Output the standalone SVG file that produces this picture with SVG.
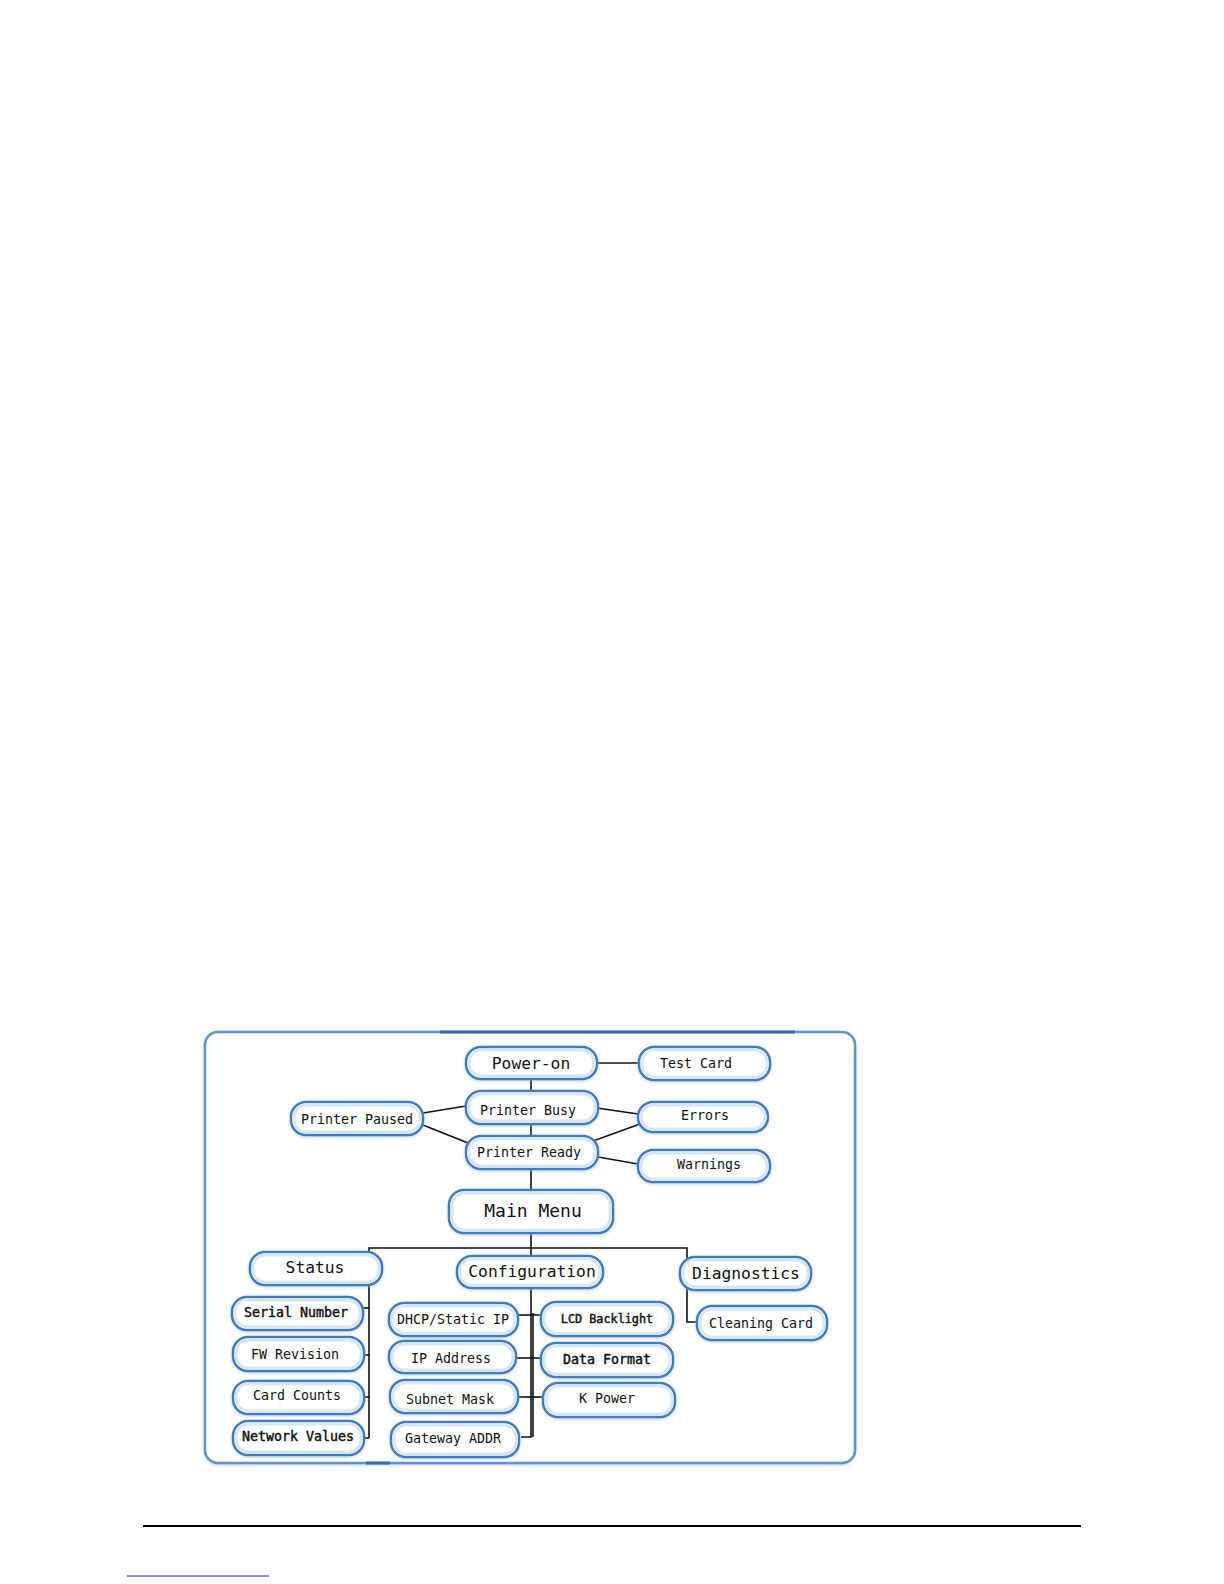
<svg xmlns="http://www.w3.org/2000/svg" width="1224" height="1584" viewBox="0 0 1224 1584">
<style>
.n rect.o{fill:#ffffff;stroke:#3f7dc0;stroke-width:2.5}
.n rect.i{fill:none;stroke:#d9e7f5;stroke-width:3}
.n text{font-family:"DejaVu Sans Mono","Liberation Mono",monospace;font-size:13.3px;fill:#111;text-anchor:middle}
.n text.m{font-size:16.3px}
.n text.l{font-size:18px}
.n text.b{stroke:#111;stroke-width:0.45}
.c line,.c polyline{stroke:#111;stroke-width:1.6;fill:none}
</style>
<defs>
<filter id="sh" x="-10%" y="-20%" width="120%" height="140%">
<feDropShadow dx="0" dy="1" stdDeviation="1.5" flood-color="#8fb4dc" flood-opacity="0.6"/>
</filter>
</defs>
<rect width="1224" height="1584" fill="#ffffff"/>
<g id="frame">
<rect x="205" y="1032" width="650" height="431" rx="13" fill="#ffffff" stroke="#5b94d2" stroke-width="2.5" filter="url(#sh)"/>
<line x1="440" y1="1032" x2="795" y2="1032" stroke="#2f6db5" stroke-width="3"/>
<line x1="366" y1="1463" x2="390" y2="1463" stroke="#2f6db5" stroke-width="3"/>
</g>
<g class="c" id="connectors">
<line x1="531" y1="1079" x2="531" y2="1091"/>
<line x1="531" y1="1124" x2="531" y2="1136"/>
<line x1="531" y1="1169" x2="531" y2="1190"/>
<line x1="531" y1="1233" x2="531" y2="1256"/>
<line x1="597" y1="1063" x2="639" y2="1063"/>
<line x1="423" y1="1113" x2="466" y2="1106"/>
<line x1="423" y1="1125" x2="468" y2="1143"/>
<line x1="597" y1="1108" x2="638" y2="1114"/>
<line x1="593" y1="1141" x2="640" y2="1124"/>
<line x1="598" y1="1157" x2="638" y2="1164"/>
<polyline points="369,1438 369,1248 687,1248 687,1322 697,1322"/>
<line x1="363" y1="1308" x2="369" y2="1308"/>
<line x1="364" y1="1355" x2="369" y2="1355"/>
<line x1="364" y1="1397" x2="369" y2="1397"/>
<line x1="364" y1="1438" x2="369" y2="1438"/>
<polyline points="531,1288 531,1437 521,1437"/>
<line x1="533" y1="1313" x2="533" y2="1437"/>
<line x1="518" y1="1315" x2="541" y2="1315"/>
<line x1="516" y1="1358" x2="541" y2="1358"/>
<line x1="518" y1="1397" x2="543" y2="1397"/>
</g>
<g class="n" id="power-on"><rect class="o" x="466" y="1047" width="131" height="32" rx="15" filter="url(#sh)"/><rect class="i" x="469" y="1050" width="125" height="26" rx="12"/><text class="m" x="531" y="1069">Power-on</text></g>
<g class="n" id="test-card"><rect class="o" x="639" y="1047" width="131" height="33" rx="15" filter="url(#sh)"/><rect class="i" x="642" y="1050" width="125" height="27" rx="12"/><text x="696" y="1068">Test Card</text></g>
<g class="n" id="printer-busy"><rect class="o" x="466" y="1091" width="132" height="33" rx="15" filter="url(#sh)"/><rect class="i" x="469" y="1094" width="126" height="27" rx="12"/><text x="528" y="1115">Printer Busy</text></g>
<g class="n" id="errors"><rect class="o" x="638" y="1102" width="130" height="30" rx="15" filter="url(#sh)"/><rect class="i" x="641" y="1105" width="124" height="24" rx="12"/><text x="705" y="1120">Errors</text></g>
<g class="n" id="printer-ready"><rect class="o" x="466" y="1136" width="132" height="33" rx="15" filter="url(#sh)"/><rect class="i" x="469" y="1139" width="126" height="27" rx="12"/><text x="529" y="1157">Printer Ready</text></g>
<g class="n" id="warnings"><rect class="o" x="638" y="1150" width="132" height="32" rx="15" filter="url(#sh)"/><rect class="i" x="641" y="1153" width="126" height="26" rx="12"/><text x="709" y="1169">Warnings</text></g>
<g class="n" id="printer-paused"><rect class="o" x="291" y="1102" width="132" height="33" rx="15" filter="url(#sh)"/><rect class="i" x="294" y="1105" width="126" height="27" rx="12"/><text x="357" y="1124">Printer Paused</text></g>
<g class="n" id="main-menu"><rect class="o" x="449" y="1190" width="164" height="43" rx="15" filter="url(#sh)"/><rect class="i" x="452" y="1193" width="158" height="37" rx="12"/><text class="l" x="533" y="1217">Main Menu</text></g>
<g class="n" id="status"><rect class="o" x="250" y="1252" width="132" height="33" rx="15" filter="url(#sh)"/><rect class="i" x="253" y="1255" width="126" height="27" rx="12"/><text class="m" x="315" y="1273">Status</text></g>
<g class="n" id="configuration"><rect class="o" x="457" y="1256" width="146" height="32" rx="15" filter="url(#sh)"/><rect class="i" x="460" y="1259" width="140" height="26" rx="12"/><text class="m" x="532" y="1277">Configuration</text></g>
<g class="n" id="diagnostics"><rect class="o" x="680" y="1257" width="131" height="33" rx="15" filter="url(#sh)"/><rect class="i" x="683" y="1260" width="125" height="27" rx="12"/><text class="m" x="746" y="1279">Diagnostics</text></g>
<g class="n" id="cleaning-card"><rect class="o" x="697" y="1306" width="130" height="34" rx="15" filter="url(#sh)"/><rect class="i" x="700" y="1309" width="124" height="28" rx="12"/><text x="761" y="1328">Cleaning Card</text></g>
<g class="n" id="serial-number"><rect class="o" x="232" y="1297" width="131" height="33" rx="15" filter="url(#sh)"/><rect class="i" x="235" y="1300" width="125" height="27" rx="12"/><text class="b" x="296" y="1317">Serial Number</text></g>
<g class="n" id="fw-revision"><rect class="o" x="233" y="1337" width="131" height="34" rx="15" filter="url(#sh)"/><rect class="i" x="236" y="1340" width="125" height="28" rx="12"/><text x="295" y="1359">FW Revision</text></g>
<g class="n" id="card-counts"><rect class="o" x="233" y="1381" width="131" height="33" rx="15" filter="url(#sh)"/><rect class="i" x="236" y="1384" width="125" height="27" rx="12"/><text x="297" y="1400">Card Counts</text></g>
<g class="n" id="network-values"><rect class="o" x="233" y="1421" width="131" height="34" rx="15" filter="url(#sh)"/><rect class="i" x="236" y="1424" width="125" height="28" rx="12"/><text class="b" x="298" y="1441">Network Values</text></g>
<g class="n" id="dhcp-static-ip"><rect class="o" x="389" y="1303" width="129" height="33" rx="15" filter="url(#sh)"/><rect class="i" x="392" y="1306" width="123" height="27" rx="12"/><text x="453" y="1324">DHCP/Static IP</text></g>
<g class="n" id="ip-address"><rect class="o" x="389" y="1341" width="127" height="32" rx="15" filter="url(#sh)"/><rect class="i" x="392" y="1344" width="121" height="26" rx="12"/><text x="451" y="1363">IP Address</text></g>
<g class="n" id="subnet-mask"><rect class="o" x="390" y="1380" width="128" height="33" rx="15" filter="url(#sh)"/><rect class="i" x="393" y="1383" width="122" height="27" rx="12"/><text x="450" y="1404">Subnet Mask</text></g>
<g class="n" id="gateway-addr"><rect class="o" x="391" y="1422" width="128" height="35" rx="15" filter="url(#sh)"/><rect class="i" x="394" y="1425" width="122" height="29" rx="12"/><text x="453" y="1443">Gateway ADDR</text></g>
<g class="n" id="lcd-backlight"><rect class="o" x="541" y="1302" width="132" height="34" rx="15" filter="url(#sh)"/><rect class="i" x="544" y="1305" width="126" height="28" rx="12"/><text class="b" x="607" y="1323" style="font-size:11.8px">LCD Backlight</text></g>
<g class="n" id="data-format"><rect class="o" x="541" y="1343" width="132" height="34" rx="15" filter="url(#sh)"/><rect class="i" x="544" y="1346" width="126" height="28" rx="12"/><text class="b" x="607" y="1364">Data Format</text></g>
<g class="n" id="k-power"><rect class="o" x="543" y="1383" width="132" height="34" rx="15" filter="url(#sh)"/><rect class="i" x="546" y="1386" width="126" height="28" rx="12"/><text x="607" y="1403">K Power</text></g>
<g id="footer">
<line x1="143" y1="1526" x2="1081" y2="1526" stroke="#000" stroke-width="2"/>
<line x1="127" y1="1576" x2="269" y2="1576" stroke="#1a1aa0" stroke-width="1"/>
</g>
</svg>
